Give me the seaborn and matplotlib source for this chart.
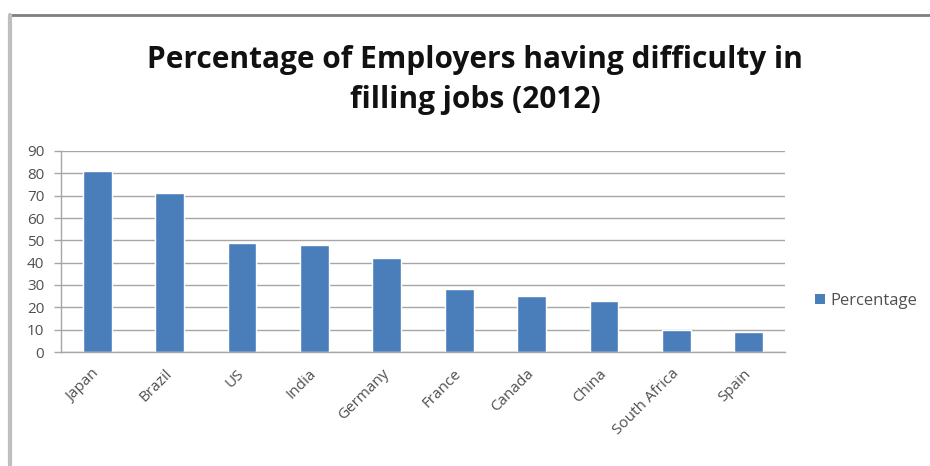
import matplotlib
matplotlib.use("Agg")
import matplotlib.pyplot as plt
import seaborn as sns
import pandas as pd
from matplotlib.patches import Patch
from matplotlib.lines import Line2D

countries = ["Japan", "Brazil", "US", "India", "Germany", "France", "Canada",
             "China", "South Africa", "Spain"]
percentages = [81, 71, 49, 48, 42, 28, 25, 23, 10, 9]
yticks = [0, 10, 20, 30, 40, 50, 60, 70, 80, 90]
series_name = "Percentage"
title = "Percentage of Employers having difficulty in\nfilling jobs (2012)"

df = pd.DataFrame({"Country": countries, series_name: percentages})

sns.set_style("white")
plt.rcParams["font.family"] = ["Open Sans", "DejaVu Sans"]

fig = plt.figure(figsize=(9.3, 4.66), dpi=100)
ax = fig.add_axes([61/930, 1-352/466, (785-61)/930, (352-151)/466])

bar_color = "#4a7ebb"
sns.barplot(data=df, x="Country", y=series_name, color=bar_color, width=0.4,
            ax=ax, saturation=1)

label_color = "#505050"
ax.set_ylim(0, 90)
ax.set_xlim(-0.5, len(countries) - 0.5)
ax.set_yticks(yticks)
ax.set_yticklabels([str(v) for v in yticks], fontsize=11, color=label_color)
ax.yaxis.grid(True, color="#a6a6a6", linewidth=1.0)
ax.set_axisbelow(True)

ax.set_xticks(range(len(countries)))
ax.set_xticklabels(countries, rotation=45, ha="right", va="center",
                   rotation_mode="anchor", fontsize=11, color=label_color)
ax.tick_params(axis="x", length=0, pad=14)
# category boundary ticks
ax.set_xticks([i - 0.5 for i in range(len(countries) + 1)], minor=True)
ax.tick_params(axis="x", which="minor", length=5, color="#a6a6a6", width=1)
ax.tick_params(axis="y", length=5, color="#a6a6a6", width=1, left=True, pad=7)

for side in ["top", "right"]:
    ax.spines[side].set_visible(False)
for side in ["left", "bottom"]:
    ax.spines[side].set_color("#a6a6a6")
    ax.spines[side].set_linewidth(1)

ax.set_xlabel("")
ax.set_ylabel("")

fig.text(475/930, 1-80/466, title, ha="center", va="center", fontsize=21.5,
         fontweight="bold", color="#111111", linespacing=1.4)

handle = Patch(facecolor=bar_color, edgecolor="none")
fig.legend([handle], [series_name], loc="center left",
           bbox_to_anchor=(800/930, 1-301/466), frameon=False, fontsize=12,
           handlelength=0.6, handleheight=0.6, handletextpad=0.3,
           labelcolor=label_color)

fig.lines.append(Line2D([10/930, 1], [1-15/466, 1-15/466], transform=fig.transFigure,
                        color="#7f7f7f", linewidth=2))
fig.lines.append(Line2D([10/930, 10/930], [0, 1-15/466], transform=fig.transFigure,
                        color="#bfbfbf", linewidth=3))

fig.savefig("out.png", dpi=100)
